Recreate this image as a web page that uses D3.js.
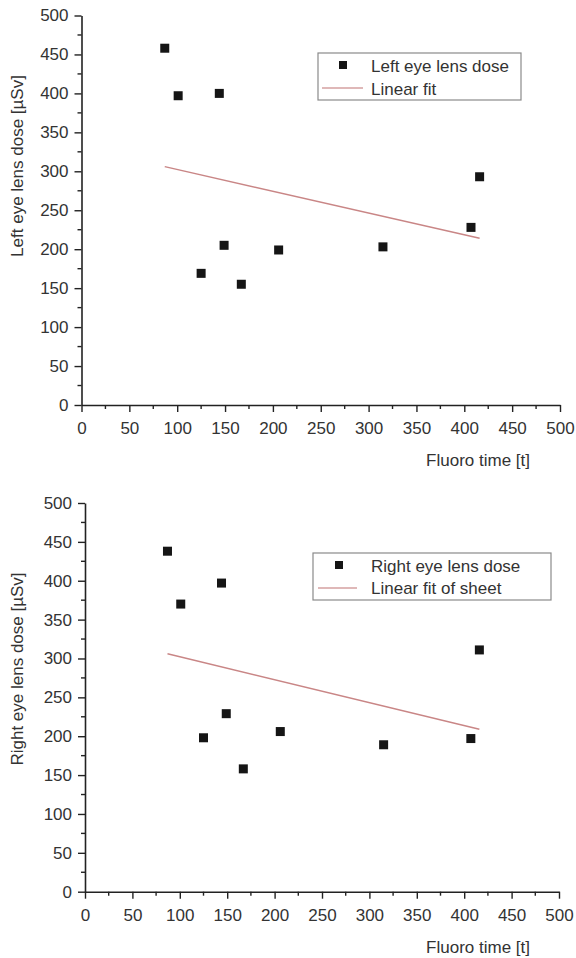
<!DOCTYPE html>
<html>
<head>
<meta charset="utf-8">
<script src="https://cdn.jsdelivr.net/npm/d3@7"></script>
<style>
  body { margin: 0; background: #fff; }
  svg text { font-family: "Liberation Sans", Arial, sans-serif; fill: #333; }
</style>
</head>
<body>
<div id="chart"></div>
<script>
// fluoro time per case (same for both panels)
const fluoroTime = [87, 101, 125, 144, 149, 167, 206, 315, 407, 416];
const leftDose = [458, 397, 169, 400, 205, 155, 199, 203, 228, 293];
const rightDose = [438, 370, 198, 397, 229, 158, 206, 189, 197, 311];
// linear fit end points [time, dose]
const leftFit = [[87, 306], [416, 214]];
const rightFit = [[87, 306], [416, 209]];
const xTicks = d3.range(0, 501, 50);
const yTicks = d3.range(0, 501, 50);
const minorTicks = d3.range(25, 500, 50);

const width = 576, height = 958;
const fs = 17;
const svg = d3.select('#chart').append('svg')
    .attr('width', width)
    .attr('height', height);

const panels = [
    { values: leftDose, fit: leftFit, ylabel: 'Left eye lens dose [µSv]',
      legend: ['Left eye lens dose', 'Linear fit'],
      left: 81.5, right: 560, top: 15.5, bottom: 405, labelY: 166,
      box: { x: 318, y: 53, w: 203, h: 47, mx: 25, tx: 53, l1: 4, l2: 45, rows: [19, 42] } },
    { values: rightDose, fit: rightFit, ylabel: 'Right eye lens dose [µSv]',
      legend: ['Right eye lens dose', 'Linear fit of sheet'],
      left: 85, right: 559, top: 503, bottom: 891.7, labelY: 669,
      box: { x: 313, y: 553, w: 238, h: 47, mx: 26, tx: 58, l1: 5, l2: 44, rows: [19, 41] } }
];

panels.forEach(p => {
    const x = d3.scaleLinear().domain([0, 500]).range([p.left, p.right]);
    const y = d3.scaleLinear().domain([0, 500]).range([p.bottom, p.top]);
    const g = svg.append('g');

    // x axis
    const xa = g.append('g')
        .attr('transform', `translate(0, ${p.bottom})`)
        .call(d3.axisBottom(x).tickValues(xTicks).tickSize(7).tickPadding(10).tickSizeOuter(0));
    xa.append('g').selectAll('line').data(minorTicks).join('line')
        .attr('x1', d => x(d)).attr('x2', d => x(d))
        .attr('y1', 0).attr('y2', 4);

    // y axis
    const ya = g.append('g')
        .attr('transform', `translate(${p.left}, 0)`)
        .call(d3.axisLeft(y).tickValues(yTicks).tickSize(7).tickPadding(6).tickSizeOuter(0));
    ya.append('g').selectAll('line').data(minorTicks).join('line')
        .attr('y1', d => y(d)).attr('y2', d => y(d))
        .attr('x1', 0).attr('x2', -4);

    g.selectAll('.domain').attr('stroke', '#222').attr('stroke-width', 1.6);
    g.selectAll('.tick line').attr('stroke', '#222').attr('stroke-width', 1.4);
    g.selectAll('g > g > line').attr('stroke', '#222').attr('stroke-width', 1.4);
    g.selectAll('.tick text')
        .attr('font-size', fs)
        .attr('fill', '#333')
        .attr('font-family', '"Liberation Sans", Arial, sans-serif');

    // axis titles
    g.append('text')
        .attr('transform', `translate(23, ${p.labelY}) rotate(-90)`)
        .attr('text-anchor', 'middle')
        .attr('font-size', fs)
        .text(p.ylabel);
    g.append('text')
        .attr('x', 530)
        .attr('y', p.bottom + 61)
        .attr('text-anchor', 'end')
        .attr('font-size', fs)
        .text('Fluoro time [t]');

    // fit line
    g.append('line')
        .attr('x1', x(p.fit[0][0])).attr('y1', y(p.fit[0][1]))
        .attr('x2', x(p.fit[1][0])).attr('y2', y(p.fit[1][1]))
        .attr('stroke', '#c98686')
        .attr('stroke-width', 1.5);

    // points
    const s = 9;
    g.selectAll('rect.pt')
        .data(fluoroTime.map((t, i) => ({ t, v: p.values[i] })))
        .join('rect')
        .attr('class', 'pt')
        .attr('x', d => x(d.t) - s / 2)
        .attr('y', d => y(d.v) - s / 2)
        .attr('width', s).attr('height', s)
        .attr('fill', '#151515');

    // legend
    const b = p.box;
    const lg = g.append('g').attr('transform', `translate(${b.x}, ${b.y})`);
    lg.append('rect')
        .attr('width', b.w).attr('height', b.h)
        .attr('fill', 'none').attr('stroke', '#8a8a8a').attr('stroke-width', 1.2);
    lg.append('rect')
        .attr('x', b.mx - 4).attr('y', 8).attr('width', 8).attr('height', 8)
        .attr('fill', '#151515');
    lg.append('line')
        .attr('x1', b.l1).attr('x2', b.l2).attr('y1', 35).attr('y2', 35)
        .attr('stroke', '#d4a0a0').attr('stroke-width', 1.5);
    lg.selectAll('text.lbl').data(p.legend).join('text')
        .attr('class', 'lbl')
        .attr('x', b.tx)
        .attr('y', (d, i) => b.rows[i])
        .attr('font-size', fs)
        .text(d => d);
});
</script>
</body>
</html>
